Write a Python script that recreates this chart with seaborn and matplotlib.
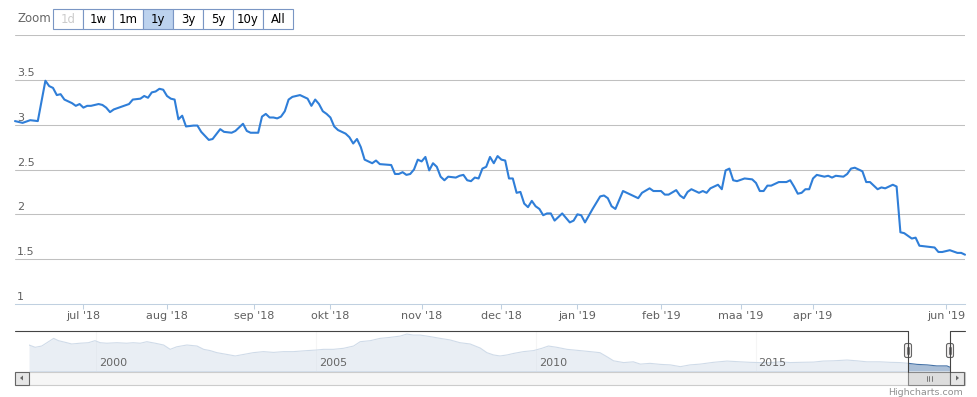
import pandas as pd
import seaborn as sns
import matplotlib.pyplot as plt
from matplotlib.patches import Rectangle, FancyBboxPatch, Polygon

# main series: trading-day number (ordinal axis) and value
day_idx = [0, 2, 4, 6, 8, 9, 10, 11, 12, 13, 15, 16, 17, 18, 19, 20, 22, 23, 24, 25,
           26, 28, 30, 31, 33, 34, 35, 36, 37, 38, 39, 40, 41, 42, 43, 44, 45, 47, 48, 49,
           51, 52, 54, 55, 57, 58, 60, 61, 62, 64, 65, 66, 67, 68, 69, 70, 71, 72, 73, 75,
           76, 77, 78, 79, 80, 81, 82, 83, 84, 85, 87, 88, 89, 90, 91, 92, 94, 95, 96, 99,
           100, 101, 102, 103, 104, 105, 106, 107, 108, 109, 110, 111, 112, 113, 114, 116,
           117, 118, 119, 120, 121, 122, 123, 124, 125, 126, 127, 128, 129, 130, 131, 132,
           133, 134, 135, 136, 137, 138, 139, 140, 141, 142, 144, 146, 147, 148, 149, 150,
           152, 154, 155, 156, 157, 158, 159, 160, 162, 164, 165, 167, 168, 170, 171, 172,
           174, 175, 176, 177, 178, 179, 180, 181, 182, 183, 185, 186, 187, 188, 189, 190,
           192, 194, 195, 196, 197, 198, 199, 201, 203, 204, 205, 206, 207, 208, 209, 210,
           211, 213, 214, 215, 216, 218, 219, 220, 221, 223, 224, 225, 227, 228, 229, 231,
           232, 233, 234, 236, 237, 238, 240, 242, 243, 244, 246, 248, 249, 250]
values = [3.04, 3.02, 3.05, 3.04, 3.49, 3.43, 3.41, 3.33, 3.34, 3.28, 3.24, 3.21, 3.23, 3.19, 3.21, 3.21, 3.23, 3.22, 3.19, 3.14,
          3.17, 3.20, 3.23, 3.28, 3.29, 3.32, 3.30, 3.36, 3.37, 3.40, 3.39, 3.32, 3.29, 3.28, 3.06, 3.10, 2.98, 2.99, 2.99, 2.92,
          2.83, 2.84, 2.95, 2.92, 2.91, 2.93, 3.01, 2.93, 2.91, 2.91, 3.09, 3.12, 3.08, 3.08, 3.07, 3.09, 3.15, 3.28, 3.31, 3.33,
          3.31, 3.29, 3.21, 3.28, 3.23, 3.15, 3.12, 3.08, 2.98, 2.94, 2.90, 2.86, 2.79, 2.84, 2.75, 2.61, 2.57, 2.60, 2.56, 2.55,
          2.45, 2.45, 2.47, 2.44, 2.45, 2.50, 2.61, 2.59, 2.64, 2.49, 2.57, 2.53, 2.42, 2.38, 2.42, 2.41,
          2.43, 2.44, 2.38, 2.37, 2.41, 2.40, 2.51, 2.53, 2.64, 2.57, 2.65, 2.61, 2.60, 2.40, 2.40, 2.24,
          2.25, 2.12, 2.08, 2.15, 2.09, 2.06, 1.99, 2.01, 2.01, 1.93, 2.01, 1.91, 1.93, 2.00, 1.99, 1.91,
          2.06, 2.20, 2.21, 2.18, 2.09, 2.06, 2.16, 2.26, 2.22, 2.18, 2.24, 2.29, 2.26, 2.26, 2.22, 2.22,
          2.27, 2.21, 2.18, 2.25, 2.28, 2.26, 2.24, 2.26, 2.24, 2.29, 2.33, 2.28, 2.49, 2.51, 2.38, 2.37,
          2.40, 2.39, 2.35, 2.26, 2.26, 2.32, 2.32, 2.36, 2.36, 2.38, 2.31, 2.23, 2.24, 2.28, 2.28, 2.40,
          2.44, 2.42, 2.43, 2.41, 2.43, 2.42, 2.45, 2.51, 2.52, 2.48, 2.36, 2.36, 2.28, 2.30, 2.29, 2.33,
          2.31, 1.80, 1.79, 1.73, 1.74, 1.65, 1.64, 1.63, 1.58, 1.58, 1.60, 1.57, 1.57, 1.55]

month_idx = [18, 40, 63, 83, 107, 128, 148, 170, 191, 210, 245]
month_labels = ["jul '18", "aug '18", "sep '18", "okt '18", "nov '18", "dec '18",
                "jan '19", "feb '19", "maa '19", "apr '19", "jun '19"]
y_ticks = [1, 1.5, 2, 2.5, 3, 3.5, 4]

# navigator (full history)
nav_year = [1998.48, 1998.62, 1998.77, 1998.96, 1999.04, 1999.15, 1999.34, 1999.45, 1999.64, 1999.83,
            1999.98, 2000.10, 2000.25, 2000.48, 2000.70, 2000.85, 2001.01, 2001.16, 2001.35, 2001.54,
            2001.69, 2001.84, 2002.07, 2002.30, 2002.45, 2002.60, 2002.75, 2002.98, 2003.17, 2003.36,
            2003.58, 2003.81, 2004.04, 2004.27, 2004.49, 2004.80, 2004.99, 2005.18, 2005.40, 2005.63,
            2005.86, 2006.01, 2006.24, 2006.46, 2006.69, 2006.92, 2007.07, 2007.22, 2007.37, 2007.60,
            2007.83, 2008.05, 2008.28, 2008.51, 2008.74, 2008.89, 2009.04, 2009.19, 2009.35, 2009.50,
            2009.72, 2009.95, 2010.14, 2010.29, 2010.48, 2010.71, 2011.01, 2011.24, 2011.46, 2011.62,
            2011.77, 2012.00, 2012.22, 2012.38, 2012.60, 2012.83, 2013.06, 2013.29, 2013.51, 2013.74,
            2014.04, 2014.35, 2014.65, 2014.88, 2015.10, 2015.33, 2015.56, 2015.79, 2016.01, 2016.32,
            2016.54, 2016.77, 2017.08, 2017.30, 2017.53, 2017.83, 2018.06, 2018.29, 2018.48, 2018.67,
            2018.90, 2019.12, 2019.35, 2019.42]
nav_value = [10.2, 9.3, 9.8, 11.9, 12.8, 11.9, 11.1, 10.6, 10.9, 11.1,
             11.9, 11.1, 10.9, 11.1, 10.9, 11.1, 10.9, 11.5, 10.9, 10.2,
             8.5, 9.5, 10.2, 9.8, 8.5, 8.0, 7.2, 6.5, 5.9, 6.5,
             7.2, 7.6, 7.3, 7.6, 7.6, 8.0, 8.2, 8.5, 8.5, 8.9,
             9.8, 11.5, 11.9, 12.8, 13.2, 13.7, 14.5, 14.1, 14.1, 13.5,
             12.8, 12.2, 11.1, 10.6, 9.0, 7.2, 6.3, 5.9, 6.3, 6.9,
             7.6, 8.0, 8.9, 9.8, 9.3, 8.5, 8.0, 7.6, 7.2, 5.6,
             4.0, 3.3, 3.6, 2.7, 3.0, 2.6, 2.4, 1.7, 2.4, 2.7,
             3.4, 3.9, 3.6, 3.4, 3.3, 3.3, 3.6, 3.3, 3.4, 3.5,
             3.9, 4.0, 4.3, 4.0, 3.6, 3.6, 3.4, 3.3, 3.0, 2.6,
             2.4, 2.0, 2.0, 1.5]
nav_years_tick = [2000, 2005, 2010, 2015]
sel_start = 2018.48

zoom_buttons = ['1d', '1w', '1m', '1y', '3y', '5y', '10y', 'All']

sns.set_theme(style='white')
plt.rcParams['font.family'] = ['DejaVu Sans']

W, H = 978, 397
fig = plt.figure(figsize=(W / 100, H / 100), dpi=100)

# ---- main chart
ax = fig.add_axes([15 / W, 93 / H, 950 / W, 269 / H])
df = pd.DataFrame({'day': day_idx, 'value': values})
sns.lineplot(data=df, x='day', y='value', ax=ax, color='#2f7ed8', linewidth=1.5, clip_on=False)
ax.set_xlim(0, 250)
ax.set_ylim(1, 4)
ax.set_yticks(y_ticks[1:])
ax.set_yticklabels([])
ax.tick_params(axis='y', length=0)
ax.grid(axis='y', color='#C0C0C0', linewidth=0.75)
ax.grid(axis='x', visible=False)
for s in ['top', 'left', 'right']:
    ax.spines[s].set_visible(False)
ax.spines['bottom'].set_color('#C0D0E0')
ax.spines['bottom'].set_linewidth(0.75)
ax.set_xticks(month_idx)
ax.set_xticklabels(month_labels)
ax.tick_params(axis='x', length=3.6, width=0.75, color='#C0D0E0', pad=1.5,
               labelsize=8, labelcolor='#606060', bottom=True)
ax.set_xlabel('')
ax.set_ylabel('')
for v in y_ticks[:-1]:
    ax.annotate('{:g}'.format(v), xy=(0, v), xycoords=('axes fraction', 'data'),
                xytext=(2, 2), textcoords='offset pixels', ha='left', va='bottom',
                fontsize=8, color='#606060')

# ---- navigator
nav = fig.add_axes([29 / W, 26 / H, 921 / W, 40 / H])
ndf = pd.DataFrame({'year': nav_year, 'value': nav_value})
nav.fill_between(ndf['year'], ndf['value'], 0, color='#4572A7', alpha=0.45, linewidth=0)
sns.lineplot(data=ndf, x='year', y='value', ax=nav, color='#4572A7', linewidth=0.8)
nav.set_xlim(nav_year[0], nav_year[-1])
nav.set_ylim(0, 15.7)
nav.axis('off')
for yr in nav_years_tick:
    nav.axvline(yr, color='#d8d8d8', linewidth=0.75, zorder=0)
nav.axvspan(nav_year[0], sel_start, color='white', alpha=0.75, linewidth=0, zorder=3)
for yr in nav_years_tick:
    nav.annotate(str(yr), xy=(yr, 0.21), xycoords=('data', 'axes fraction'),
                 xytext=(3, 0), textcoords='offset pixels', ha='left', va='center',
                 fontsize=8, color='#666666', zorder=5)

# ---- decorations in pixel space (range selector, outline, scrollbar)
ov = fig.add_axes([0, 0, 1, 1], zorder=5)
ov.set_xlim(0, W)
ov.set_ylim(H, 0)
ov.axis('off')
ov.patch.set_alpha(0)

ov.text(17, 19, 'Zoom', ha='left', va='center', fontsize=8.5, color='#666666')
for i, lab in enumerate(zoom_buttons):
    x0 = 53 + 30 * i
    fc = '#bcd2ee' if lab == '1y' else 'white'
    ov.add_patch(Rectangle((x0, 9), 30, 20, fc=fc, ec='#7a96c4', lw=0.8))
    ov.text(x0 + 15, 19.5, lab, ha='center', va='center', fontsize=8.5,
            color='#cccccc' if lab == '1d' else '#000000')

# navigator outline and handles
hl, hr = 908, 950
ov.plot([15, hl, hl], [331, 331, 371.5], color='#444444', lw=0.8)
ov.plot([hr, hr, 965], [371.5, 331, 331], color='#444444', lw=0.8)
for hx in (hl, hr):
    ov.add_patch(FancyBboxPatch((hx - 3.5, 343.5), 7, 14,
                                boxstyle='round,pad=0,rounding_size=2',
                                fc='#f2f0f0', ec='#666666', lw=0.8))
    ov.plot([hx - 1, hx - 1], [347, 354], color='#666666', lw=0.6)
    ov.plot([hx + 1, hx + 1], [347, 354], color='#666666', lw=0.6)

# scrollbar
ov.add_patch(Rectangle((15, 371.5), 950, 13, fc='#f6f6f6', ec='#cccccc', lw=0.8))
ov.add_patch(Rectangle((15, 371.5), 14, 13, fc='#e6e6e6', ec='#666666', lw=0.8))
ov.add_patch(Rectangle((hl, 371.5), hr - hl, 13, fc='#dddddd', ec='#888888', lw=0.8))
ov.add_patch(Rectangle((hr, 371.5), 14, 13, fc='#e6e6e6', ec='#666666', lw=0.8))
ov.add_patch(Polygon([[20, 378], [23, 375.5], [23, 380.5]], closed=True, fc='#666666', ec='none'))
ov.add_patch(Polygon([[959, 378], [956, 375.5], [956, 380.5]], closed=True, fc='#666666', ec='none'))
gx = (hl + hr) / 2
for dx in (-2.5, 0, 2.5):
    ov.plot([gx + dx, gx + dx], [375.5, 381], color='#666666', lw=0.6)

ov.text(963, 392.5, 'Highcharts.com', ha='right', va='center', fontsize=6.8, color='#909090')

fig.savefig('out.png', dpi=100)
